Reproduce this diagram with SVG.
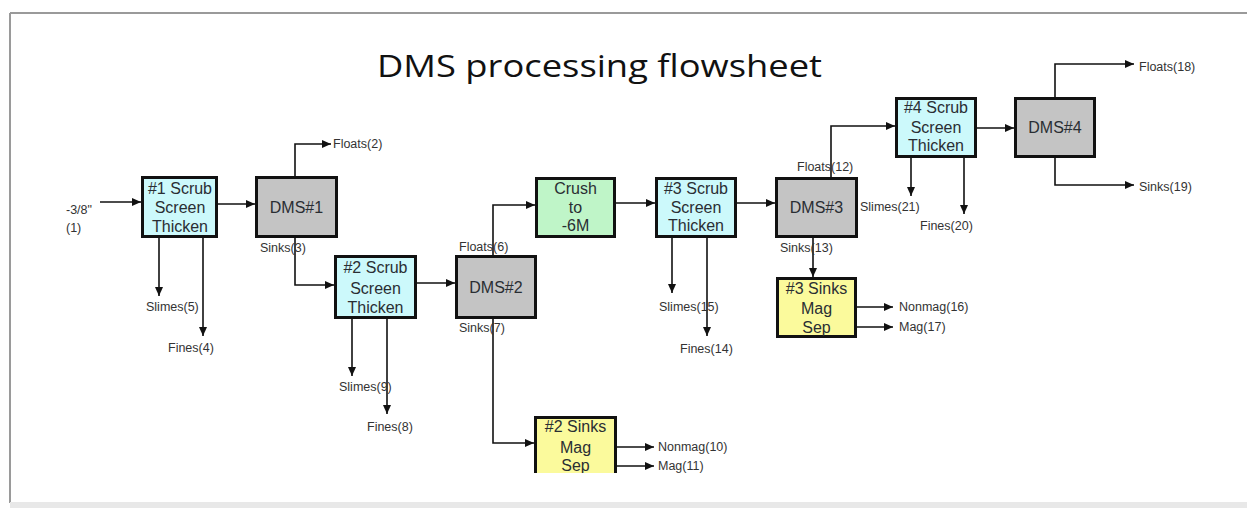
<svg xmlns="http://www.w3.org/2000/svg" width="1247" height="508" viewBox="0 0 1247 508">
<style>
.box{stroke:#111;stroke-width:3}
.scrub{fill:#ccf9fb}
.dms{fill:#c4c4c4}
.crush{fill:#bff5c8}
.mag{fill:#fbfa9c}
.bt{font-family:"Liberation Sans",Arial,sans-serif;font-size:16px;fill:#2a2e33;text-anchor:middle}
.lb{font-family:"Liberation Sans",Arial,sans-serif;font-size:12.5px;fill:#333}
.cn{fill:none;stroke:#111;stroke-width:1.6}
</style>
<defs>
<marker id="ah" markerUnits="userSpaceOnUse" markerWidth="10" markerHeight="8" refX="9" refY="4" orient="auto">
<path d="M0,0 L9,4 L0,8 z" fill="#111"/>
</marker>
<clipPath id="clipS2"><rect x="520" y="400" width="120" height="73"/></clipPath>
</defs>
<rect x="0" y="0" width="1247" height="508" fill="#fff"/>
<g id="frame">
<line x1="10" y1="13" x2="1247" y2="13" stroke="#9a9a9a" stroke-width="2"/>
<line x1="10" y1="13" x2="10" y2="503" stroke="#9a9a9a" stroke-width="2"/>
<rect x="10" y="502" width="1237" height="6" fill="#e8e8e8"/>
</g>
<text id="title" x="377" y="77" font-family="'Open Sans','Noto Sans',sans-serif" font-size="31" font-weight="500" fill="#111" textLength="445" lengthAdjust="spacingAndGlyphs">DMS processing flowsheet</text>

<g id="connectors">
<path class="cn" d="M100,202 H141" marker-end="url(#ah)"/>
<path class="cn" d="M218,204 H255" marker-end="url(#ah)"/>
<path class="cn" d="M295,176 V144 H331" marker-end="url(#ah)"/>
<path class="cn" d="M295,238 V285 H334" marker-end="url(#ah)"/>
<path class="cn" d="M159,238 V296" marker-end="url(#ah)"/>
<path class="cn" d="M203,238 V336" marker-end="url(#ah)"/>
<path class="cn" d="M417,283 H455" marker-end="url(#ah)"/>
<path class="cn" d="M352,319 V376" marker-end="url(#ah)"/>
<path class="cn" d="M387,319 V414" marker-end="url(#ah)"/>
<path class="cn" d="M493,255 V205 H535" marker-end="url(#ah)"/>
<path class="cn" d="M493,319 V443 H534" marker-end="url(#ah)"/>
<path class="cn" d="M617,447 H654" marker-end="url(#ah)"/>
<path class="cn" d="M617,466 H654" marker-end="url(#ah)"/>
<path class="cn" d="M616,203 H655" marker-end="url(#ah)"/>
<path class="cn" d="M737,203 H775" marker-end="url(#ah)"/>
<path class="cn" d="M672,238 V293" marker-end="url(#ah)"/>
<path class="cn" d="M707,238 V336" marker-end="url(#ah)"/>
<path class="cn" d="M831,177 V126 H895" marker-end="url(#ah)"/>
<path class="cn" d="M813,238 V277" marker-end="url(#ah)"/>
<path class="cn" d="M857,307 H893" marker-end="url(#ah)"/>
<path class="cn" d="M857,327 H893" marker-end="url(#ah)"/>
<path class="cn" d="M977,128 H1014" marker-end="url(#ah)"/>
<path class="cn" d="M911,158 V196" marker-end="url(#ah)"/>
<path class="cn" d="M964,158 V214" marker-end="url(#ah)"/>
<path class="cn" d="M1055,97 V64 H1134" marker-end="url(#ah)"/>
<path class="cn" d="M1055,158 V185 H1134" marker-end="url(#ah)"/>
</g>

<g id="labels" class="lb">
<text x="66" y="214">-3/8"</text>
<text x="66" y="232">(1)</text>
<text x="333" y="148">Floats(2)</text>
<text x="260" y="252">Sinks(3)</text>
<text x="146" y="311">Slimes(5)</text>
<text x="168" y="352">Fines(4)</text>
<text x="339" y="391">Slimes(9)</text>
<text x="367" y="431">Fines(8)</text>
<text x="459" y="251">Floats(6)</text>
<text x="459" y="332">Sinks(7)</text>
<text x="658" y="451">Nonmag(10)</text>
<text x="658" y="470">Mag(11)</text>
<text x="659" y="311">Slimes(15)</text>
<text x="680" y="353">Fines(14)</text>
<text x="797" y="171">Floats(12)</text>
<text x="780" y="252">Sinks(13)</text>
<text x="860" y="211">Slimes(21)</text>
<text x="920" y="230">Fines(20)</text>
<text x="899" y="311">Nonmag(16)</text>
<text x="899" y="331">Mag(17)</text>
<text x="1139" y="71">Floats(18)</text>
<text x="1139" y="191">Sinks(19)</text>
</g>

<g id="scrub1">
<rect class="box scrub" x="142.5" y="177.5" width="74" height="59"/>
<text class="bt" x="180" y="194">#1 Scrub</text>
<text class="bt" x="180" y="213">Screen</text>
<text class="bt" x="180" y="232">Thicken</text>
</g>
<g id="dms1">
<rect class="box dms" x="256.5" y="177.5" width="80" height="59"/>
<text class="bt" x="296.5" y="213">DMS#1</text>
</g>
<g id="scrub2">
<rect class="box scrub" x="335.5" y="256.5" width="80" height="61"/>
<text class="bt" x="375.5" y="273">#2 Scrub</text>
<text class="bt" x="375.5" y="294">Screen</text>
<text class="bt" x="375.5" y="313">Thicken</text>
</g>
<g id="dms2">
<rect class="box dms" x="456.5" y="256.5" width="79" height="61"/>
<text class="bt" x="496" y="293">DMS#2</text>
</g>
<g id="crush">
<rect class="box crush" x="536.5" y="178.5" width="78" height="58"/>
<text class="bt" x="575.5" y="194">Crush</text>
<text class="bt" x="575.5" y="213">to</text>
<text class="bt" x="575.5" y="231">-6M</text>
</g>
<g id="scrub3">
<rect class="box scrub" x="656.5" y="178.5" width="79" height="58"/>
<text class="bt" x="696" y="194">#3 Scrub</text>
<text class="bt" x="696" y="213">Screen</text>
<text class="bt" x="696" y="231">Thicken</text>
</g>
<g id="dms3">
<rect class="box dms" x="776.5" y="178.5" width="80" height="58"/>
<text class="bt" x="816.5" y="213">DMS#3</text>
</g>
<g id="sinks3">
<rect class="box mag" x="777.5" y="278.5" width="78" height="58"/>
<text class="bt" x="816.5" y="294">#3 Sinks</text>
<text class="bt" x="816.5" y="314">Mag</text>
<text class="bt" x="816.5" y="333">Sep</text>
</g>
<g id="scrub4">
<rect class="box scrub" x="896.5" y="98.5" width="79" height="58"/>
<text class="bt" x="936" y="113">#4 Scrub</text>
<text class="bt" x="936" y="133">Screen</text>
<text class="bt" x="936" y="151">Thicken</text>
</g>
<g id="dms4">
<rect class="box dms" x="1015.5" y="98.5" width="79" height="58"/>
<text class="bt" x="1055" y="133">DMS#4</text>
</g>
<g id="sinks2" clip-path="url(#clipS2)">
<rect class="box mag" x="535.5" y="417.5" width="80" height="70"/>
<text class="bt" x="575.5" y="432">#2 Sinks</text>
<text class="bt" x="575.5" y="453">Mag</text>
<text class="bt" x="575.5" y="471">Sep</text>
</g>
</svg>
